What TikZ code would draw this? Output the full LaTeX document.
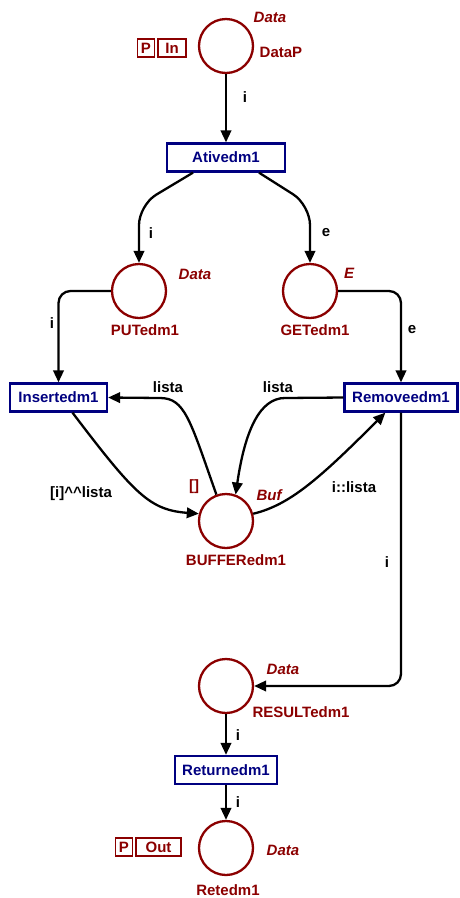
\documentclass[tikz,border=0pt]{standalone}
\usepackage{fontspec}
\setmainfont{Liberation Sans}
\usetikzlibrary{arrows.meta,calc}
\definecolor{placered}{RGB}{139,0,0}
\definecolor{transblue}{RGB}{0,0,128}
\begin{document}
\begin{tikzpicture}[x=1pt,y=-1pt,
  font=\fontsize{15}{18}\selectfont\bfseries,
  place/.style={circle, draw=placered, line width=2.3pt, minimum size=54pt, inner sep=0pt},
  trans/.style={rectangle, draw=transblue, line width=2.3pt, text=transblue,
                minimum height=28pt, inner sep=0pt},
  arc/.style={draw=black, line width=2.3pt, -{Triangle[length=12pt,width=10.5pt]}},
  inscr/.style={text=black, inner sep=0pt},
  ptype/.style={text=placered, inner sep=0pt, font=\fontsize{15}{18}\selectfont\bfseries\itshape},
  pname/.style={text=placered, inner sep=0pt},
  portbox/.style={draw=placered, line width=1.2pt, text=placered, minimum height=18pt,
                  inner sep=0pt, font=\fontsize{15}{16}\selectfont\bfseries}]
\useasboundingbox (0,0) rectangle (459,898);

% places
\node[place] (datap)  at (226,46)  {};
\node[place] (put)    at (139,291) {};
\node[place] (get)    at (310,291) {};
\node[place] (buf)    at (226,521) {};
\node[place] (result) at (226,686) {};
\node[place] (ret)    at (226,848) {};

% transitions
\node[trans, minimum width=118pt] (ative)  at (226,157.5) {Ativedm1};
\node[trans, minimum width=97pt]  (insert) at (58.5,397.5) {Insertedm1};
\node[trans, minimum width=113pt] (remove) at (401,397.5) {Removeedm1};
\node[trans, minimum width=102pt] (return) at (226,770)   {Returnedm1};

% port tags
\node[portbox, minimum width=17pt] (pin)    at (146,48)   {P};
\node[portbox, minimum width=28pt] (inlab)  at (172,48)   {In};
\node[portbox, minimum width=17pt] (pout)   at (124,847)  {P};
\node[portbox, minimum width=45pt] (outlab) at (158.5,847) {Out};

% place types, names and initial marking
\node[ptype] (tdatap)  at (270,17)  {Data};
\node[pname] (ndatap)  at (281,52)  {DataP};
\node[ptype] (tput)    at (195,274) {Data};
\node[pname] (nput)    at (145,330) {PUTedm1};
\node[ptype] (tget)    at (349,273) {E};
\node[pname] (nget)    at (315,330) {GETedm1};
\node[pname] (mbuf)    at (194,487) {[]};
\node[ptype] (tbuf)    at (269,495) {Buf};
\node[pname] (nbuf)    at (236,560) {BUFFERedm1};
\node[ptype] (tresult) at (283,669) {Data};
\node[pname] (nresult) at (301,712) {RESULTedm1};
\node[ptype] (tret)    at (283,850) {Data};
\node[pname] (nret)    at (228,890) {Retedm1};

% arcs
\draw[arc] (datap) -- (ative);
\draw[arc, rounded corners=20pt] ($(ative.south)+(-33,0)$) -- (139,205) -- (put.north);
\draw[arc, rounded corners=20pt] ($(ative.south)+(33,0)$) -- (310,205) -- (get.north);
\draw[arc, rounded corners=12pt] (put.west) -| (insert.north);
\draw[arc, rounded corners=12pt] (get.east) -| (remove.north);
\draw[arc] (buf.110) .. controls (190,420) and (185,398) .. (160,398) -- (insert.east);
\draw[arc] (remove.west) -- (285,398) .. controls (260,398) and (245,430) .. (buf.70);
\draw[arc] ($(insert.south)+(14,0)$) .. controls (135,495) and (150,510) .. (buf.165);
\draw[arc] (buf.15) .. controls (290,505) and (320,478) .. ($(remove.south west)+(42,0)$);
\draw[arc, rounded corners=12pt] (remove.south) |- (result.east);
\draw[arc] (result) -- (return);
\draw[arc] (return) -- (ret);

% arc inscriptions
\node[inscr] (a1)  at (245,97)  {i};
\node[inscr] (a2)  at (151,233) {i};
\node[inscr] (a3)  at (326,233) {e};
\node[inscr] (a4)  at (52,323)  {i};
\node[inscr] (a5)  at (412,330) {e};
\node[inscr] (a6)  at (168,387) {lista};
\node[inscr] (a7)  at (278,387) {lista};
\node[inscr] (a8)  at (81,494)  {[i]\textasciicircum\textasciicircum lista};
\node[inscr] (a9)  at (354,487) {i::lista};
\node[inscr] (a10) at (387,562) {i};
\node[inscr] (a11) at (238,735) {i};
\node[inscr] (a12) at (238,802) {i};
\end{tikzpicture}
\end{document}
